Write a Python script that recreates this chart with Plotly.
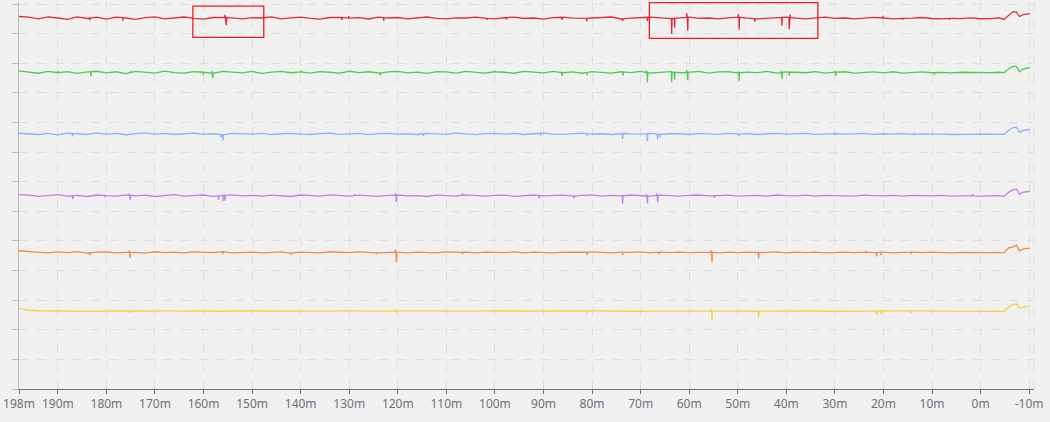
import numpy as np
import plotly.graph_objects as go

# ---------------- data ----------------
x_grid = list(range(198, -3, -2))          # 198 .. -2 m, step 2
end_x = [-3.8, -4.8, -5.8, -6.7, -7.4, -8.0, -8.8, -10.2]
tick_vals = [198, 190, 180, 170, 160, 150, 140, 130, 120, 110, 100, 90, 80, 70, 60, 50, 40, 30, 20, 10, 0, -10]
tick_text = [f"{v}m" for v in tick_vals]

series_names = ["red", "green", "blue", "purple", "orange", "yellow"]
base_levels = [376, 321, 258.5, 196, 138.5, 79]

red_jit = [1.5,0.8,-0.9,1.2,0,-1.4,1.1,-0.5,0.8,-1.2,
           0.9,0,-1.3,0.3,1.2,-0.9,0,1.0,-0.3,-1.2,
           0.5,1.0,-0.2,-1.0,0.3,0,1.2,-0.9,0.2,0.9,
           -0.3,-1.2,0.5,0.9,-0.2,0.3,-1.0,0.8,0,0.5,
           -0.9,0.2,1.0,-0.3,-1.0,0.2,0,0.9,-0.2,-0.9,
           0.3,0.9,-0.5,0,-1.2,0.3,0.8,-0.2,-0.9,0,
           0.5,1.0,-1.0,-0.2,0.3,0.9,0,-0.8,0.2,0.8,
           -0.3,0,-1.0,0.2,0.8,-0.2,-0.9,0,0.3,0.9,
           -0.2,-0.9,0.2,0.8,-0.3,0,-1.0,-0.2,0.6,0,
           -0.9,-0.3,-0.2,0.5,-0.5,-1.0,-0.3,-0.6,0.2,-0.8,
           -0.6]
green_jit = [1.4,0,-1.0,0.9,-0.5,0.6,-1.2,0.3,1.0,-0.6,
             0.5,-1.3,0.8,0.2,-0.8,1.2,-0.3,-0.9,0.6,0,
             -1.0,0.9,0.3,-0.6,0.8,-1.2,0.2,0.9,-0.5,0.3,
             -0.9,0.6,0,-0.8,1.0,-0.3,0.5,-1.0,0.3,0.8,
             -0.6,0.2,-1.2,0.6,0.3,-0.8,0.9,-0.2,-0.9,0.5,
             0,-1.0,0.8,0.2,-0.6,0.9,-0.5,0.3,-1.0,0.6,
             0.2,-0.8,0.5,-0.3,0.9,-0.9,0.2,0.6,-0.5,0,
             0.8,-0.9,0.3,0.5,-0.6,0.2,-0.3,0.8,-0.8,0.3,
             0,-0.5,0.6,-0.9,0.2,0.5,-0.8,0,0.3,-0.6,
             0.5,-0.9,0,0.3,-0.5,-0.2,-0.6,0,-0.3,-0.5,
             -0.3]
blue_jit = [0.7,0.3,-0.6,0.5,-0.9,0.8,0.2,-0.5,0.9,-0.3,
            0.6,-0.8,0.3,1.0,-0.2,0.5,-0.6,0,0.8,-0.5,
            0.2,-0.9,0.5,0.3,-0.3,0.6,-0.8,0.2,0.5,-0.2,
            -0.6,0.3,0.8,-0.5,0,0.5,-0.8,0.3,0.6,-0.3,
            0,-0.6,0.5,0.2,-0.5,0.8,-0.2,-0.8,0.3,0.6,
            -0.3,0.5,-0.6,0.2,0.9,-0.2,-0.5,0.3,0.8,-0.3,
            0.2,-0.6,0.5,0,-0.3,0.6,-0.5,0.2,0.3,-0.6,
            0.5,0,-0.5,0.6,-0.2,0.3,-0.6,0.2,0.5,-0.3,
            0,0.5,-0.5,0.2,0.3,-0.3,0,0.5,-0.5,0.2,
            -0.2,0.3,-0.5,0,0.2,-0.3,-0.6,-0.2,-0.5,-0.3,
            -0.5]
purple_jit = [1.0,0.5,-0.8,0.3,0.9,-0.6,0.2,-0.9,0.6,0,
              -0.5,0.8,-0.3,0.5,-0.9,0.3,0.9,-0.5,0,0.6,
              -0.8,0.2,0.8,-0.3,0.3,-0.6,0.5,0,-0.9,0.6,
              0.2,-0.5,0.8,-0.2,-0.6,0.5,0.2,-0.8,0.3,0.6,
              -0.3,0,-0.9,0.5,0.3,-0.5,0.8,-0.2,-0.6,0.3,
              0.5,-0.8,0.2,0.6,-0.3,0,0.5,-0.6,0.3,0.8,
              -0.5,0.2,-0.3,0.6,0,-0.6,0.5,0.2,-0.5,0.3,
              0.6,-0.3,0,0.5,-0.6,0.2,0.3,-0.5,0.6,0,
              -0.3,0.5,-0.6,0.2,0.3,-0.2,-0.5,0.5,0,-0.3,
              0.2,-0.5,0.3,0,-0.3,0.2,-0.6,-0.3,-0.2,-0.5,
              -0.3]
orange_jit = [1.6,0.5,0,-0.6,0.5,-0.3,0.8,-0.8,0.2,0.5,
              -0.5,0.3,0,-0.8,0.6,-0.2,0.3,-0.6,0.5,0,
              -0.3,0.6,-0.6,0.2,0.3,-0.5,0,0.5,-0.8,0.3,
              0.2,-0.5,0.6,-0.2,-0.3,0.5,0,-0.6,0.3,0.2,
              -0.5,0.3,0,-0.6,0.5,-0.2,0.2,-0.5,0.3,0,
              -0.3,0.5,-0.5,0.2,0,-0.6,0.3,0.2,-0.3,0.5,
              -0.2,-0.5,0.3,0,0.5,-0.5,0.2,-0.2,0.3,-0.3,
              0,0.5,-0.5,0.2,-0.2,0.3,-0.3,0,0.5,-0.5,
              0.2,-0.2,0.3,-0.5,0,0.3,-0.3,0.2,-0.2,0.3,
              -0.5,0,0.2,-0.3,0.2,-0.2,-0.5,0,-0.3,-0.5,
              -0.3]
yellow_jit = [2.7,0.8,0.3,0.1,0,-0.2,0.1,0,-0.3,0.2,
              0,-0.1,0.2,-0.2,0,0.1,-0.3,0,0.2,-0.1,
              0,-0.2,0.1,0,-0.1,0.2,0,-0.2,0,0.1,
              -0.1,0,0.2,-0.2,0,0.1,0,-0.3,0,0.1,
              0,-0.1,0,0.2,-0.1,0,-0.2,0,0.1,0,
              -0.2,0,0.1,-0.1,0,0.2,0,-0.1,0,0.1,
              -0.1,0,0.2,0,-0.2,0,0.1,0,-0.1,0,
              0.1,-0.1,0,0.2,-0.1,0,-0.2,0,0.1,0,
              -0.1,0,0.1,-0.2,0,0.1,0,-0.1,0,0.1,
              -0.1,0,0.1,0,-0.1,0,-0.2,0,-0.1,-0.2,
              -0.3]

red_end = [0, -1.5, 3, 6.5, 6, 1.5, 3.5, 4.5]
green_end = [0, -0.5, 3.5, 6, 6, 0.5, 3.5, 4.7]
blue_end = [0, -0.5, 3.5, 6.5, 6.8, 1.5, 3.5, 4.5]
purple_end = [0, -0.8, 3.5, 6, 6.5, 1.5, 3.5, 4.2]
orange_end = [0, -0.5, 4.5, 5.5, 7.2, 1.5, 3.5, 4.2]
yellow_end = [0, -0.5, 4, 6.5, 7.3, 3, 4, 5]

# spikes: position (m) and excursion (negative = downward)
red_spk_x = [183.4, 176.6, 155.6, 155.3, 131.5, 130.1, 122.9, 101.6, 97.6, 86.2, 81.1, 73.7, 68.6,
             63.6, 63.0, 60.5, 60.3, 49.9, 49.7, 46.5, 40.9, 39.4, 39.2, 20.1, 16.0, 6.4]
red_spk_d = [-2, -3, 2.5, -8, -2.5, 2, -3, -1.5, -2, -2.5, -3, -2, -4,
             -15.5, -9.5, 4, -13.5, 3, -12.5, -3, -8.5, -12, 3, 2, -1.5, -1.5]
green_spk_x = [190.0, 183.2, 175.0, 160.1, 158.3, 158.1, 140.0, 123.6, 100.0, 86.2, 81.0, 73.6,
               68.8, 68.6, 63.6, 63.0, 60.5, 60.3, 49.9, 49.7, 41.1, 40.9, 39.4, 30.0, 29.8, 9.5]
green_spk_d = [2, -4.5, 1.5, -2.5, 2, -5, 1.5, -2.5, 1.5, -3.5, -2.5, -3.5,
               2, -10, -10.5, -7.5, 2.5, -8, 1.5, -8, 1.5, -6.5, -3.5, 1.5, -3.5, -2]
blue_spk_x = [187.0, 156.4, 156.0, 114.7, 90.6, 81.0, 73.7, 68.6, 66.5, 66.0, 49.7, 30.0, 13.7]
blue_spk_d = [-3, -3, -6, -2.5, -2.5, -2.5, -5.5, -7.5, -5.5, -3, -2, -1.5, 1.5]
purple_spk_x = [186.9, 180.3, 175.3, 175.1, 156.9, 156.0, 155.6, 128.9, 120.5, 120.3, 106.7, 90.9,
                83.7, 73.7, 68.8, 68.6, 66.7, 66.5, 54.8, 1.6]
purple_spk_d = [-3.5, -2, 1.5, -5, -4, -6, -5.5, 1.5, 1.5, -7, 2, -3,
                -2, -8, 1.5, -7.5, 2, -7, -2, 2]
orange_spk_x = [183.4, 175.3, 175.1, 156.0, 142.0, 124.4, 120.5, 120.3, 106.7, 81.0, 73.7, 66.2,
                55.5, 55.3, 45.9, 45.7, 23.6, 21.4, 20.5, 14.3]
orange_spk_d = [-2.5, 1.5, -6, -2.5, -2, -1.5, 2.5, -10, -2, -3, -3, -2,
                1.5, -10, 1, -6, 1.5, -4, -3, -2]
yellow_spk_x = [175.1, 120.5, 120.3, 81.0, 55.5, 55.3, 45.7, 21.4, 20.5, 14.3]
yellow_spk_d = [-2, 1, -2, -3, 1.5, -10, -6, -4, -3, -2]

jits = [red_jit, green_jit, blue_jit, purple_jit, orange_jit, yellow_jit]
ends = [red_end, green_end, blue_end, purple_end, orange_end, yellow_end]
spk_xs = [red_spk_x, green_spk_x, blue_spk_x, purple_spk_x, orange_spk_x, yellow_spk_x]
spk_ds = [red_spk_d, green_spk_d, blue_spk_d, purple_spk_d, orange_spk_d, yellow_spk_d]

# highlight boxes (data coords)
box_x0 = [162.2, 68.2]
box_x1 = [147.6, 33.5]
box_y0 = [356.4, 355.4]
box_y1 = [388.1, 391.5]

colors = ["#e52a40", "#4fca4f", "#86b3f2", "#c07ee6", "#ef8b45", "#efd245"]


def build(base, jit, endo, sx, sd):
    xs = list(x_grid) + end_x
    ys = [base + j for j in jit] + [base + e for e in endo]
    xa = np.array(xs[::-1], dtype=float)
    ya = np.array(ys[::-1], dtype=float)
    pts = list(zip(xs, ys))
    for px, pd in zip(sx, sd):
        b = float(np.interp(px, xa, ya))
        pts += [(px + 0.07, b), (px, b + pd), (px - 0.07, b)]
    pts.sort(key=lambda p: -p[0])
    return [p[0] for p in pts], [p[1] for p in pts]


fig = go.Figure()
for name, base, jit, endo, sx, sd, col in zip(series_names, base_levels, jits, ends, spk_xs, spk_ds, colors):
    xx, yy = build(base, jit, endo, sx, sd)
    fig.add_trace(go.Scatter(x=xx, y=yy, mode="lines", name=name,
                             line=dict(color=col, width=1.3), hoverinfo="skip"))

for x0, x1, y0, y1 in zip(box_x0, box_x1, box_y0, box_y1):
    fig.add_shape(type="rect", xref="x", yref="y", x0=x0, x1=x1, y0=y0, y1=y1,
                  line=dict(color="#ee1c25", width=1.3), fillcolor="rgba(0,0,0,0)")

fig.add_shape(type="line", xref="paper", yref="paper", x0=1, x1=1, y0=0, y1=1,
              line=dict(color="#dcdcdc", width=1, dash="dash"))

fig.update_layout(
    width=1050, height=422,
    margin=dict(l=19, r=16, t=2, b=33),
    paper_bgcolor="#f0f0f0", plot_bgcolor="#f0f0f0",
    showlegend=False,
    font=dict(family="Noto Sans", size=12, color="#6e7079"),
)
fig.update_xaxes(
    range=[198, -11], tickmode="array", tickvals=tick_vals, ticktext=tick_text,
    showgrid=True, gridcolor="#dedede", griddash="dash", gridwidth=1,
    showline=True, linecolor="#6e7079", linewidth=1,
    ticks="outside", ticklen=4, tickcolor="#6e7079",
    zeroline=False, tickfont=dict(size=12, color="#6e7079"),
)
fig.update_yaxes(
    range=[0, 392.2], tickmode="linear", tick0=0, dtick=30, showticklabels=False,
    showgrid=True, gridcolor="#dedede", griddash="dash", gridwidth=1,
    showline=True, linecolor="#b8b8b8", linewidth=1,
    ticks="outside", ticklen=6, tickcolor="#b8b8b8", zeroline=False,
)

fig.write_html("out.html", config={"displayModeBar": False},
               post_script="document.body.style.margin='0';document.body.style.background='#f0f0f0';")
